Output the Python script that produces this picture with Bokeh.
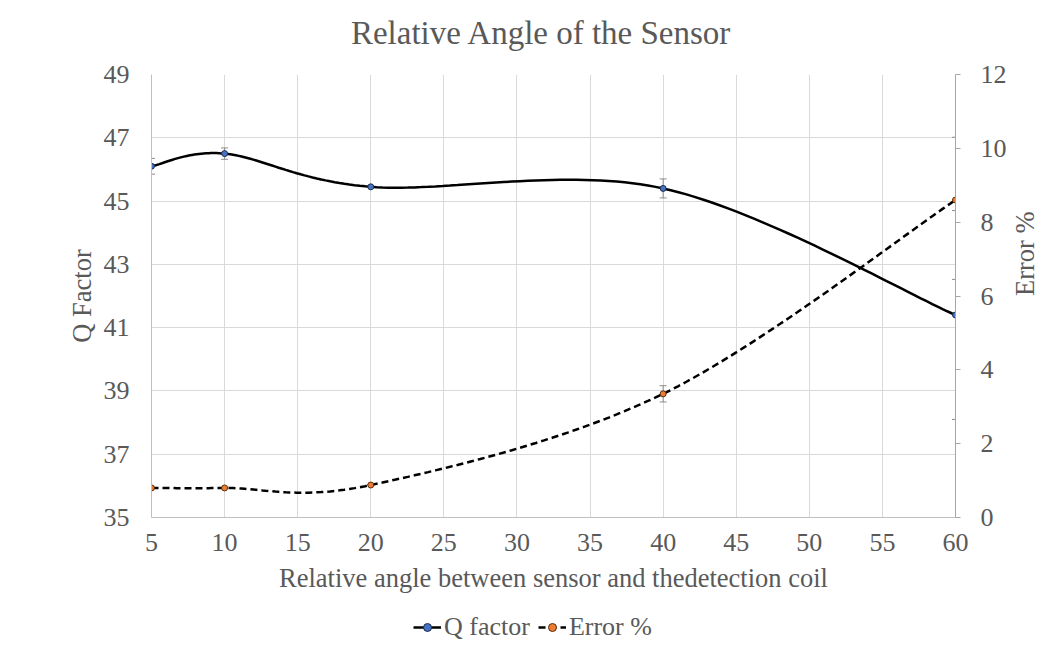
import math
import numpy as np
from bokeh.plotting import figure
from bokeh.layouts import column
from bokeh.models import (Range1d, LinearAxis, FixedTicker, Whisker, ColumnDataSource,
                          Legend, LegendItem, TeeHead)
from bokeh.core.properties import value
from bokeh.embed import file_html
from bokeh.resources import INLINE

# ---------------- data ----------------
title_text = "Relative Angle of the Sensor"
x_label = "Relative angle between sensor and thedetection coil"
y_label = "Q Factor"
y2_label = "Error %"
series_names = ["Q factor", "Error %"]
angles = [5, 10, 20, 40, 60]
q_factor = [46.1, 46.5, 45.45, 45.4, 41.4]
q_err_low = [0.25, 0.18, 0.0, 0.3, 3.3]
q_err_high = [0.25, 0.18, 0.0, 0.3, 3.3]
error_pct = [0.8, 0.8, 0.88, 3.35, 8.6]
e_err_low = [0.0, 0.0, 0.0, 0.22, 2.15]
e_err_high = [0.0, 0.0, 0.0, 0.22, 1.7]
x_ticks = [5, 10, 15, 20, 25, 30, 35, 40, 45, 50, 55, 60]
q_ticks = [35, 37, 39, 41, 43, 45, 47, 49]
e_ticks = [0, 2, 4, 6, 8, 10, 12]

FONT = "Liberation Serif"
GREY = "#595959"
GRID = "#d9d9d9"

X0, X1 = 5, 60
Q0, Q1 = 35, 49
E0, E1 = 0, 12
FW, FH = 804, 443
LEFT = 151
W = 1055
TOP_H = 58
LEG_H = 36


def smooth(xs, ys, y0, y1, n=40):
    """Excel-like smoothed line: Catmull-Rom bezier computed in pixel space."""
    px = (np.asarray(xs, float) - X0) / (X1 - X0) * FW
    py = (np.asarray(ys, float) - y0) / (y1 - y0) * FH
    P = np.column_stack([px, py])
    ext = np.vstack([P[0], P, P[-1]])
    out = []
    for i in range(len(P) - 1):
        p0, p1, p2, p3 = ext[i], ext[i + 1], ext[i + 2], ext[i + 3]
        c1 = p1 + (p2 - p0) / 6.0
        c2 = p2 - (p3 - p1) / 6.0
        t = np.linspace(0, 1, n)[:, None]
        seg = ((1 - t) ** 3) * p1 + 3 * ((1 - t) ** 2) * t * c1 + 3 * (1 - t) * t ** 2 * c2 + t ** 3 * p2
        out.append(seg if i == 0 else seg[1:])
    S = np.vstack(out)
    sx = S[:, 0] / FW * (X1 - X0) + X0
    sy = S[:, 1] / FH * (y1 - y0) + y0
    return sx, sy


def blank(h):
    # strip whose frame is aligned (by the column layout) with the main chart's frame
    f = figure(width=W, height=h, output_backend="svg", toolbar_location=None,
               x_range=Range1d(0, FW), y_range=Range1d(0, h),
               x_axis_location=None, y_axis_location=None, min_border=0,
               background_fill_color="white", border_fill_color="white")
    f.outline_line_color = None
    f.grid.visible = False
    return f


# ---------------- title strip ----------------
tp = blank(TOP_H)
tp.text(x=[542 - LEFT], y=[TOP_H - 32], text=[title_text], text_align="center", text_baseline="middle",
        text_font=value(FONT), text_font_size="33px", text_color=GREY)

# ---------------- main chart ----------------
p = figure(frame_width=FW, frame_height=FH, output_backend="svg", toolbar_location=None,
           title=None, x_range=Range1d(X0, X1), y_range=Range1d(Q0, Q1),
           min_border_left=LEFT, min_border_right=100, min_border_top=16, min_border_bottom=95,
           background_fill_color="white", border_fill_color="white")
p.outline_line_color = None
p.extra_y_ranges = {"err": Range1d(E0, E1)}

p.xgrid.ticker = FixedTicker(ticks=x_ticks)
p.ygrid.ticker = FixedTicker(ticks=q_ticks)
p.xgrid.grid_line_color = GRID
p.ygrid.grid_line_color = GRID

xa = p.xaxis[0]
xa.ticker = FixedTicker(ticks=x_ticks)
xa.axis_label = x_label
ya = p.yaxis[0]
ya.ticker = FixedTicker(ticks=q_ticks)
ya.axis_label = y_label
ra = LinearAxis(y_range_name="err", ticker=FixedTicker(ticks=e_ticks), axis_label=y2_label)
p.add_layout(ra, "right")

for ax in (xa, ya, ra):
    ax.major_label_text_font = FONT
    ax.major_label_text_font_size = "26px"
    ax.major_label_text_color = GREY
    ax.axis_label_text_font = FONT
    ax.axis_label_text_font_size = "26.5px"
    ax.axis_label_text_color = GREY
    ax.axis_label_text_font_style = "normal"
    ax.minor_tick_line_color = None
    ax.major_tick_in = 0
xa.major_tick_line_color = None
xa.major_tick_out = 0
xa.axis_line_color = "#bfbfbf"
ya.major_tick_line_color = None
ya.major_tick_out = 0
ya.axis_line_color = "#bfbfbf"
ra.axis_line_color = "#a6a6a6"
ra.major_tick_line_color = "#a6a6a6"
ra.major_tick_out = 5
ra.axis_label_orientation = math.pi / 2
xa.major_label_standoff = 16
xa.axis_label_standoff = 9
ya.major_label_standoff = 22
ya.axis_label_standoff = 4
ra.major_label_standoff = 20
ra.axis_label_standoff = 15

qsrc = ColumnDataSource(dict(x=angles, y=q_factor,
                             lo=[v - e for v, e in zip(q_factor, q_err_low)],
                             hi=[v + e for v, e in zip(q_factor, q_err_high)]))
esrc = ColumnDataSource(dict(x=angles, y=error_pct,
                             lo=[v - e for v, e in zip(error_pct, e_err_low)],
                             hi=[v + e for v, e in zip(error_pct, e_err_high)]))
for src, rng in ((qsrc, "default"), (esrc, "err")):
    w = Whisker(source=src, base="x", lower="lo", upper="hi", line_color="#8c8c8c", line_width=1,
                upper_head=TeeHead(size=7, line_color="#8c8c8c"),
                lower_head=TeeHead(size=7, line_color="#8c8c8c"))
    w.y_range_name = rng
    p.add_layout(w)

Q_STYLE = dict(line_color="black", line_width=2.5)
E_STYLE = dict(line_color="black", line_width=2.5, line_dash="7 4")
Q_MARK = dict(size=6, fill_color="#4472C4", line_color="#1f2d4d", line_width=1)
E_MARK = dict(size=6, fill_color="#ED7D31", line_color="#5a2e10", line_width=1)

qx, qy = smooth(angles, q_factor, Q0, Q1)
ex, ey = smooth(angles, error_pct, E0, E1)
p.line(qx, qy, **Q_STYLE)
p.line(ex, ey, y_range_name="err", **E_STYLE)
p.scatter(angles, q_factor, **Q_MARK)
p.scatter(angles, error_pct, y_range_name="err", **E_MARK)

# ---------------- legend strip ----------------
lp = blank(LEG_H)
# legend sample renderers (data outside the visible range; only their legend glyphs show)
lq = lp.line([0, 1], [-50, -50], **Q_STYLE)
lqs = lp.scatter([0], [-50], **Q_MARK)
le = lp.line([0, 1], [-50, -50], **E_STYLE)
les = lp.scatter([0], [-50], **E_MARK)
legend = Legend(items=[LegendItem(label=series_names[0], renderers=[lq, lqs]),
                       LegendItem(label=series_names[1], renderers=[le, les])],
                orientation="horizontal", location=(413 - LEFT, 6),
                label_text_font=FONT, label_text_font_size="26px", label_text_color=GREY,
                border_line_color=None, background_fill_alpha=0,
                glyph_width=28, label_standoff=3, spacing=8, padding=0, margin=0)
lp.add_layout(legend, "center")

layout = column(tp, p, lp, spacing=0)
open("out.html", "w").write(file_html(layout, INLINE))
